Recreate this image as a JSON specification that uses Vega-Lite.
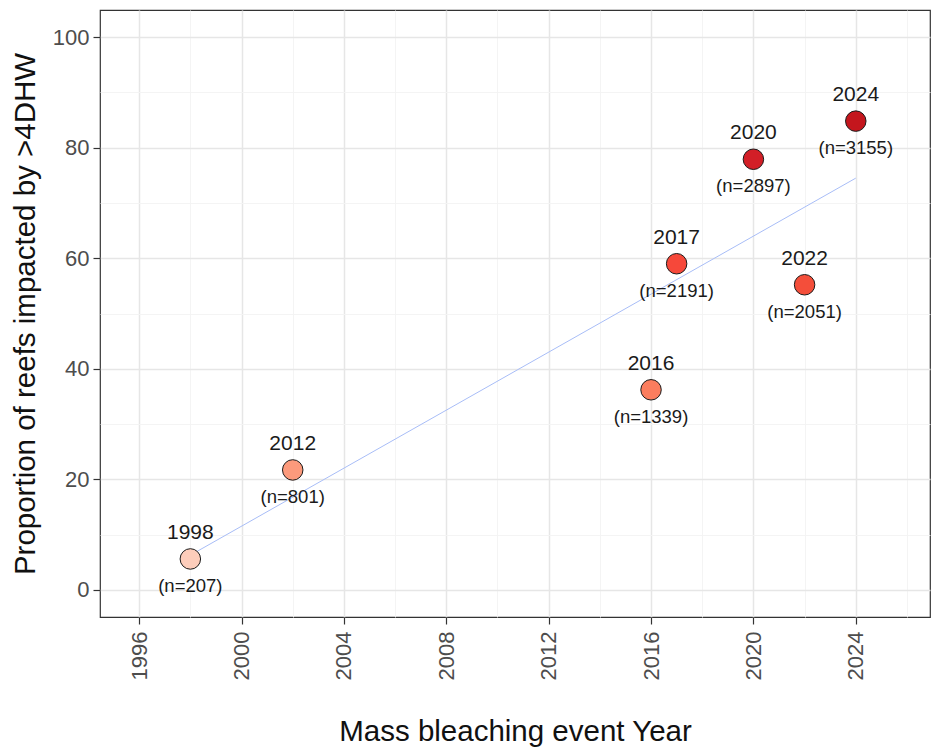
{
  "$schema": "https://vega.github.io/schema/vega-lite/v6.json",
  "width": 830,
  "height": 607,
  "autosize": "none",
  "padding": {"left": 100, "top": 10, "right": 3, "bottom": 132},
  "background": "white",
  "config": {
    "font": "Liberation Sans",
    "view": {"stroke": "#333333", "strokeWidth": 1.2}
  },
  "data": {
    "values": [
      {"year": 1998, "prop": 5.6, "label": "1998", "n": "(n=207)"},
      {"year": 2002, "prop": 21.7, "label": "2012", "n": "(n=801)"},
      {"year": 2016, "prop": 36.2, "label": "2016", "n": "(n=1339)"},
      {"year": 2017, "prop": 59.0, "label": "2017", "n": "(n=2191)"},
      {"year": 2020, "prop": 77.9, "label": "2020", "n": "(n=2897)"},
      {"year": 2022, "prop": 55.2, "label": "2022", "n": "(n=2051)"},
      {"year": 2024, "prop": 84.8, "label": "2024", "n": "(n=3155)"}
    ]
  },
  "resolve": {"axis": {"x": "independent", "y": "independent"}},
  "layer": [
    {
      "transform": [{"regression": "prop", "on": "year"}],
      "mark": {"type": "line", "color": "#a8bdf7", "strokeWidth": 1},
      "encoding": {
        "x": {
          "field": "year", "type": "quantitative",
          "scale": {"domain": [1994.47, 2026.9], "nice": false, "zero": false},
          "axis": {"values": [1998, 2002, 2006, 2010, 2014, 2018, 2022, 2026], "grid": true, "gridColor": "#f3f3f3", "gridWidth": 0.9, "labels": false, "ticks": false, "domain": false, "title": null, "orient": "top"}
        },
        "y": {
          "field": "prop", "type": "quantitative",
          "scale": {"domain": [-4.9, 104.9], "nice": false, "zero": false},
          "axis": {"values": [10, 30, 50, 70, 90], "grid": true, "gridColor": "#f3f3f3", "gridWidth": 0.9, "labels": false, "ticks": false, "domain": false, "title": null, "orient": "right"}
        }
      }
    },
    {
      "mark": {"type": "point", "filled": true, "shape": "circle", "size": 420, "stroke": "#1a1a1a", "strokeWidth": 1, "opacity": 1},
      "encoding": {
        "x": {
          "field": "year", "type": "quantitative",
          "axis": {
            "orient": "bottom",
            "values": [1996, 2000, 2004, 2008, 2012, 2016, 2020, 2024],
            "format": "d",
            "grid": true, "gridColor": "#e6e6e6", "gridWidth": 1.5,
            "domain": false,
            "ticks": true, "tickColor": "#333333", "tickSize": 7, "tickWidth": 1.2,
            "labelAngle": -90, "labelAlign": "right", "labelBaseline": "middle",
            "labelFontSize": 22, "labelColor": "#4d4d4d", "labelPadding": 7,
            "title": "Mass bleaching event Year",
            "titleFontSize": 29.5, "titleFontWeight": "normal", "titleColor": "#111111", "titlePadding": 38
          }
        },
        "y": {
          "field": "prop", "type": "quantitative",
          "axis": {
            "orient": "left",
            "values": [0, 20, 40, 60, 80, 100],
            "grid": true, "gridColor": "#e6e6e6", "gridWidth": 1.5,
            "domain": false,
            "ticks": true, "tickColor": "#333333", "tickSize": 7, "tickWidth": 1.2,
            "labelFontSize": 22, "labelColor": "#4d4d4d", "labelPadding": 4,
            "title": "Proportion of reefs impacted by >4DHW",
            "titleFontSize": 29.5, "titleFontWeight": "normal", "titleColor": "#111111", "titlePadding": 12
          }
        },
        "fill": {
          "field": "label", "type": "nominal", "legend": null,
          "scale": {
            "domain": ["1998", "2012", "2016", "2017", "2020", "2022", "2024"],
            "range": ["#fdcdbb", "#fc9a7c", "#fb7d5e", "#f6483a", "#d21f27", "#f44e3a", "#c4161d"]
          }
        }
      }
    },
    {
      "mark": {"type": "text", "dy": -26, "fontSize": 21, "color": "#1a1a1a"},
      "encoding": {
        "x": {"field": "year", "type": "quantitative", "axis": null},
        "y": {"field": "prop", "type": "quantitative", "axis": null},
        "text": {"field": "label"}
      }
    },
    {
      "mark": {"type": "text", "dy": 27, "fontSize": 18.5, "color": "#1a1a1a"},
      "encoding": {
        "x": {"field": "year", "type": "quantitative", "axis": null},
        "y": {"field": "prop", "type": "quantitative", "axis": null},
        "text": {"field": "n"}
      }
    }
  ]
}
